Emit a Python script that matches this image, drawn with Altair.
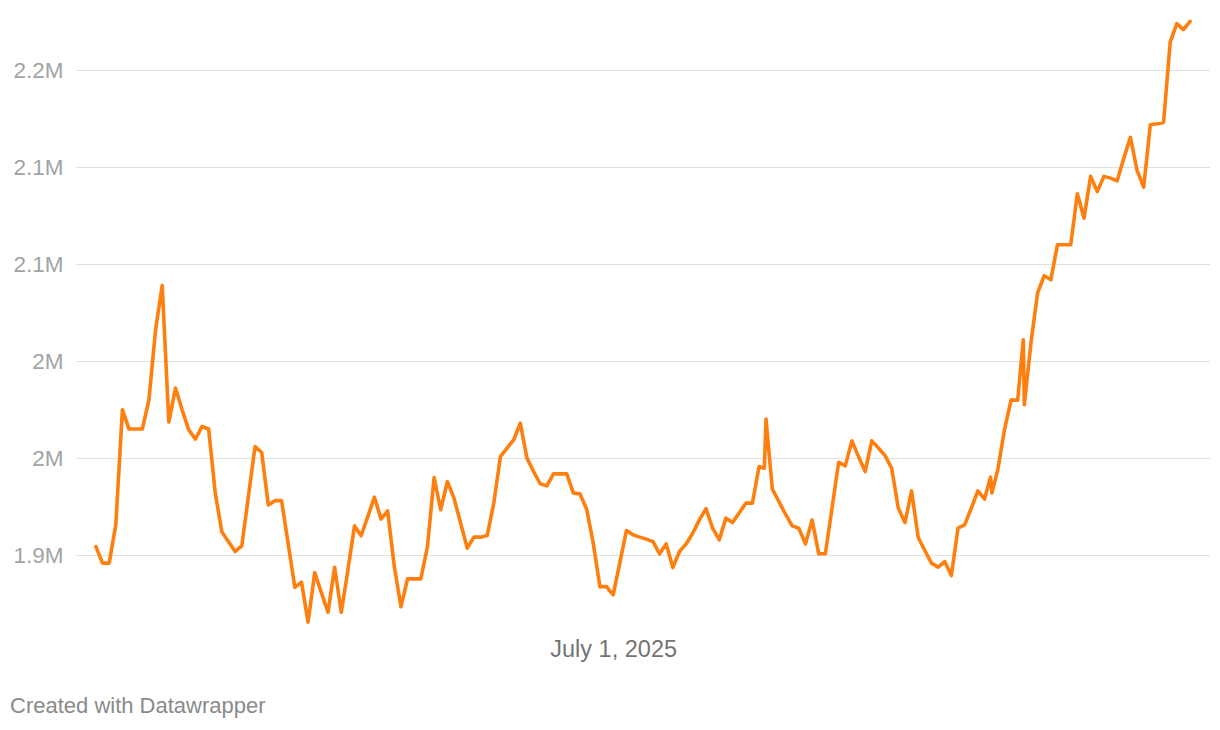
import altair as alt
import pandas as pd

# Day offsets from the first observation (14 April 2025) and values (millions)
day_offsets = [0, 1, 2, 3, 4, 5, 6, 7, 8, 9, 10, 11, 12, 13, 14, 15, 16, 17, 18, 19,
               21, 22, 24, 25, 26, 27, 28, 30, 31, 32, 33, 34, 35, 36, 37, 38, 39, 40,
               41, 42, 43, 44, 45, 46, 47, 48, 49, 50, 51, 52, 53, 54, 55, 56, 57, 58,
               59, 60, 61, 62, 63, 64, 65, 66, 67, 68, 69, 70, 71, 72, 73, 74, 75, 76,
               77, 78, 79, 80, 81, 82, 83, 84, 85, 86, 87, 88, 89, 90, 91, 92, 93, 94,
               95, 96, 97, 98, 99, 100, 100.8, 101.05, 102, 103, 104, 105, 106, 107,
               108, 109, 110, 111, 112, 113, 114, 115, 116, 117, 118, 119, 120, 121,
               122, 123, 124, 125, 126, 127, 128, 129, 130, 131, 132, 133, 134, 134.9,
               135.1, 136, 137, 138, 139, 139.85, 140, 141, 142, 143, 144, 145, 146,
               147, 148, 149, 150, 151, 152, 153, 154, 155, 156, 157, 158, 159, 160,
               161, 162, 163, 164, 165]
values_m = [1.9045, 1.8960, 1.8960, 1.9157, 1.9750, 1.9651, 1.9651, 1.9651, 1.9802, 2.0162,
            2.0391, 1.9687, 1.9862, 1.9750, 1.9647, 1.9599, 1.9664, 1.9651, 1.9321, 1.9120,
            1.9020, 1.9049, 1.9561, 1.9530, 1.9260, 1.9282, 1.9282, 1.8836, 1.8862, 1.8656,
            1.8911, 1.8808, 1.8707, 1.8939, 1.8707, 1.8925, 1.9152, 1.9101, 1.9200, 1.9300,
            1.9187, 1.9229, 1.8942, 1.8736, 1.8879, 1.8879, 1.8879, 1.9045, 1.9401, 1.9235,
            1.9380, 1.9295, 1.9166, 1.9037, 1.9094, 1.9094, 1.9102, 1.9269, 1.9509, 1.9553,
            1.9595, 1.9681, 1.9501, 1.9432, 1.9369, 1.9358, 1.9420, 1.9420, 1.9420, 1.9321,
            1.9317, 1.9238, 1.9063, 1.8839, 1.8839, 1.8796, 1.8960, 1.9128, 1.9106, 1.9094,
            1.9084, 1.9071, 1.9008, 1.9059, 1.8937, 1.9020, 1.9059, 1.9114, 1.9183, 1.9241,
            1.9140, 1.9080, 1.9192, 1.9169, 1.9218, 1.9269, 1.9269, 1.9458, 1.9449, 1.9702,
            1.9341, 1.9277, 1.9212, 1.9152, 1.9140, 1.9059, 1.9183, 1.9008, 1.9008, 1.9243,
            1.9480, 1.9461, 1.9590, 1.9509, 1.9432, 1.9590, 1.9553, 1.9514, 1.9449, 1.9243,
            1.9169, 1.9332, 1.9092, 1.9025, 1.8960, 1.8939, 1.8968, 1.8896, 1.9140, 1.9157,
            1.9243, 1.9332, 1.9290, 1.9403, 1.9321, 1.9441, 1.9645, 1.9800, 1.9800, 2.0111,
            1.9776, 2.0094, 2.0352, 2.0441, 2.0420, 2.0601, 2.0601, 2.0601, 2.0863, 2.0738,
            2.0953, 2.0875, 2.0953, 2.0944, 2.0930, 2.1047, 2.1154, 2.0984, 2.0898, 2.1219,
            2.1224, 2.1231, 2.1645, 2.1740, 2.1709, 2.1752]
start_date = "2025-04-14"
y_ticks = [1900000, 1950000, 2000000, 2050000, 2100000, 2150000]
x_label_date = (2025, 7, 1)
footer = "Created with Datawrapper"

df = pd.DataFrame({
    "date": pd.Timestamp(start_date) + pd.to_timedelta(day_offsets, unit="D"),
    "value": [v * 1e6 for v in values_m],
})

FONT = "Liberation Sans"

x_enc = alt.X(
    "date:T",
    scale=alt.Scale(domain=[alt.DateTime(year=2025, month=4, date=11),
                            alt.DateTime(year=2025, month=9, date=29)]),
    axis=alt.Axis(
        values=[alt.DateTime(year=x_label_date[0], month=x_label_date[1], date=x_label_date[2])],
        format="%B %-d, %Y", title=None, grid=False, domain=False, ticks=False,
        tickSize=0, labelPadding=4, labelFontSize=23.5, labelColor="#737373",
        labelFont=FONT,
    ),
)
y_enc = alt.Y(
    "value:Q",
    scale=alt.Scale(domain=[1860000, 2180000], nice=False, zero=False),
    axis=alt.Axis(
        values=y_ticks, format=".2~s", title=None, domain=False, ticks=False,
        tickSize=0, labelPadding=13, labelFontSize=22.5, labelColor="#a3a3a3",
        labelFont=FONT, gridColor="#e0e0e0", gridWidth=1.2,
    ),
)

line = alt.Chart(df).mark_line(
    color="#fd7f0f", strokeWidth=3.6, strokeJoin="round", strokeCap="round"
).encode(x=x_enc, y=y_enc)

foot = alt.Chart(pd.DataFrame({"t": [footer]})).mark_text(
    align="left", baseline="middle", fontSize=22, font=FONT, color="#8a8a8a"
).encode(x=alt.value(-66), y=alt.value(694), text="t:N")

chart = alt.layer(line, foot).properties(
    width=1134, height=621,
    autosize=alt.AutoSizeParams(type="none"),
    padding={"left": 68, "top": 4, "right": 0, "bottom": 86},
).configure(background="white").configure_view(stroke=None, strokeWidth=0)

chart.save("out.html", embed_options={"renderer": "svg", "actions": False})
